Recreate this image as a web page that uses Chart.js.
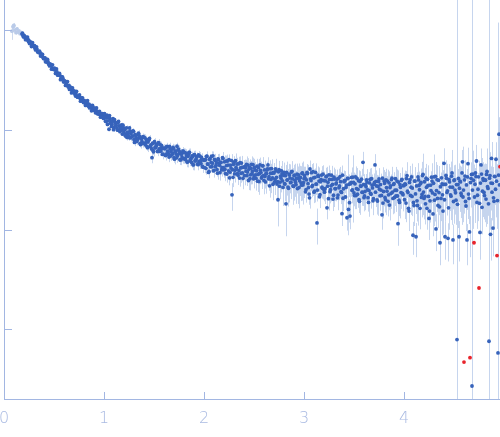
<!DOCTYPE html>
<html><head><meta charset="utf-8">
<script src="https://cdn.jsdelivr.net/npm/chart.js@4"></script>
<style>html,body{margin:0;padding:0;background:#fff}canvas{display:block}</style>
</head><body>
<canvas id="c" width="500" height="437" style="width:500px;height:437px"></canvas>
<script>
// faded (excluded) first points
const fadedQ=[0.08,0.09,0.10,0.11,0.12,0.13,0.14,0.15,0.16,0.17];
const fadedI=[985,1090,1120,1010,950,1040,965,990,930,955];
const fadedE=[180,90,70,50,40,35,30,28,25,22];

// main data, segment by segment
const qB=[0.18,0.19,0.20,0.21,0.22,0.23,0.24,0.25,0.26,0.27,0.28,0.29,0.30,0.31,0.32,0.33,0.34,0.35,0.36,0.37,0.38,0.39,0.40,0.41,0.42,0.43,0.44,0.45,0.46,0.47,0.48,0.49,0.50,0.51,0.52,0.53,0.54,0.55,0.56,0.57,0.58,0.59,0.60,0.61,0.62,0.63,0.64,0.65,0.66,0.67,0.68,0.69,0.70,0.71,0.72,0.73,0.74,0.75,0.76,0.77,0.78,0.79,0.80,0.81,0.82,0.83,0.84,0.85,0.86,0.87,0.88,0.89,0.90,0.91,0.92,0.93,0.94,0.95,0.96,0.97,0.98,0.99,1.00];
const iB=[921,884,893,851,848,806,812,790,748,751,739,697,
700,662,668,651,609,598,603,566,571,538,522,530,509,481,486,457,461,449,421,411,
415,402,379,383,358,362,353,331,326,328,305,310,301,282,278,281,262,266,247,251,
243,229,236,221,214,220,209,202,207,194,199,188,183,189,177,182,171,174,163,169,
158,161,159,149,153,144,147,139,143,134,137];
const eB=[16,14,15,13,14,12,13,12,11,12,11,10,
10,9.5,10,9,9.5,8.5,9,8.5,8,8.5,8,7.5,8,7.5,7,7.5,7,6.5,7,6.5,
6.5,6,6.5,6,5.8,6,5.6,5.8,5.4,5.6,5.2,5.4,5,5.2,4.9,5,4.8,4.9,4.7,4.8,
4.7,4.6,4.7,4.5,4.6,4.4,4.5,4.3,4.4,4.2,4.3,4.2,4.3,4.1,4.2,4.1,4.2,4.0,4.1,4.0,
4.0,4.1,4.0,4.1,4.0,4.1,4.0,4.1,4.0,4.1,4.2];

const qH=[0.185,0.195,0.205,0.215,0.225,0.235,0.245,0.255,0.265,0.275,0.285,0.295,0.305,0.315,0.325,0.335,0.345,0.355,0.365,0.375,
0.385,0.395,0.405,0.415,0.425,0.435,0.445,0.455,0.465,0.475,0.485,0.495,0.505,0.515,0.525,0.535,0.545,0.555,0.565,0.575,
0.585,0.595,0.605,0.615,0.625,0.635,0.645,0.655,0.665,0.675,0.685,0.695,0.705,0.715,0.725,0.735,0.745,0.755,0.765,0.775,
0.785,0.795,0.805,0.815,0.825,0.835,0.845,0.855,0.865,0.875,0.885,0.895,0.905,0.915,0.925,0.935,0.945,0.955,0.965,0.975,
0.985,0.995];
const iH=[939,861,879,808,854,859,774,740,768,691,
753,693,703,638,686,611,614,622,553,578,
574,522,529,485,512,513,462,441,456,409,
452,407,418,371,411,357,361,370,321,343,
342,305,312,281,303,307,270,256,270,236,
265,240,246,220,245,214,218,225,195,210,
211,189,196,177,193,197,174,167,177,156,
177,161,166,149,167,146,149,154,135,145,
146,131];
const eH=[15,14,14,13,13,12,12,12,11,11,
10,10,10,9.5,9.5,9,9,8.5,8.5,8,
8,8,7.5,7.5,7.5,7,7,7,6.5,6.5,
6.5,6.3,6.2,6,6,5.8,5.7,5.6,5.5,5.4,
5.3,5.2,5.1,5,5,4.9,4.9,4.8,4.8,4.7,
4.7,4.6,4.6,4.5,4.5,4.4,4.4,4.3,4.3,4.2,
4.2,4.2,4.2,4.1,4.1,4.1,4.1,4.1,4.0,4.0,
4.0,4.0,4.0,4.0,4.0,4.0,4.0,4.0,4.0,4.0,
4.0,4.0];

const qC=[1.01,1.02,1.03,1.04,1.05,1.06,1.07,1.08,1.09,1.10,1.11,1.12,1.13,1.14,1.15,1.16,1.17,1.18,1.19,1.20,1.21,1.22,1.23,1.24,1.25,1.26,1.27,1.28,1.29,1.30,1.31,1.32,1.33,1.34,1.35,1.36,1.37,1.38,1.39,1.40,1.41,1.42,1.43,1.44,1.45,1.46,1.47,1.48,1.49,1.50,1.51,1.52,1.53,1.54,1.55,1.56,1.57,1.58,1.59,1.60,1.61,1.62,1.63,1.64,1.65,1.66,1.67,1.68,1.69,1.70,1.71,1.72,1.73,1.74,1.75,1.76,1.77,1.78,1.79,1.80,1.81,1.82,1.83,1.84,1.85,1.86,1.87,1.88,1.89,1.90,1.91,1.92,1.93,1.94,1.95,1.96,1.97,1.98,1.99,2.00];
const iC=[137,122,141,124,102,130,122,114,130,106,
119,111,104,118,110,96.5,109,99.9,112,95,
101.7,90.6,84.5,92.9,84.2,97.7,91.8,86,98,80,
90.3,84.2,79,89.6,83.6,73.7,83.2,76.8,86.2,73.7,
73.7,81.3,68.4,75.8,80.9,68.3,71.1,52.9,62.4,74.7,
66.5,68.7,71.3,61.4,64.8,71.4,61.7,66.2,57.3,65.6,
65.2,57.3,68.6,60.2,53.7,64.8,60.8,56.7,67,53,
62,57.5,68.9,63,58,50.4,59,53.6,62,51.7,
51.9,58.6,48,54.6,59.6,49.1,51.9,55.1,45,56.4,
49,51.1,53.8,45,48.6,54.7,46.1,50.5,42.5,50.3];
const eC=[4.4,4.6,4.5,4.8,4.7,5.0,4.9,5.2,5.1,5.4,5.3,5.5,5.4,5.6,5.5,5.7,5.6,5.8,5.7,5.9,
5.8,6.0,5.9,6.1,6.0,6.2,6.1,6.3,6.2,6.3,6.2,6.4,6.3,6.4,6.3,6.5,6.4,6.5,6.4,6.5,
6.4,6.5,6.4,6.5,6.3,6.5,6.4,6.4,6.3,6.4,6.3,6.4,6.2,6.3,6.2,6.3,6.1,6.2,6.1,6.2,
6.1,6.2,6.0,6.1,6.0,6.1,5.9,6.0,5.9,6.0,5.8,5.9,5.8,5.9,5.7,5.8,5.7,5.8,5.6,5.7,
5.6,5.7,5.6,5.7,5.5,5.6,5.5,5.6,5.4,5.5,5.4,5.5,5.4,5.5,5.3,5.4,5.3,5.4,5.3,5.4];

const qK=[1.005,1.015,1.025,1.035,1.045,1.055,1.065,1.075,1.085,1.095,1.105,1.115,1.125,1.135,1.145,1.155,1.165,1.175,1.185,1.195,
1.205,1.215,1.225,1.235,1.245,1.255,1.265,1.275,1.285,1.295,1.305,1.315,1.325,1.335,1.345,1.355,1.365,1.375,1.385,1.395,
1.405,1.415,1.425,1.435,1.445,1.455,1.465,1.475,1.485,1.495,1.505,1.515,1.525,1.535,1.545,1.555,1.565,1.575,1.585,1.595,
1.605,1.615,1.625,1.635,1.645,1.655,1.665,1.675,1.685,1.695,1.705,1.715,1.725,1.735,1.745,1.755,1.765,1.775,1.785,1.795,
1.805,1.815,1.825,1.835,1.845,1.855,1.865,1.875,1.885,1.895,1.905,1.915,1.925,1.935,1.945,1.955,1.965,1.975,1.985,1.995];
const iK=[146,123,133,114,135,140,117,109,123,101,
127,111,119,99.9,122,99.3,105.3,113,91,105,
103,87.3,105.5,95.5,87.6,105,83.4,96.6,87.2,97.3,
75.3,88.9,76.9,80.2,93.2,87.2,71.6,81.2,73.3,85,
84.1,71.1,77.1,66.6,79.1,82.6,69.4,65,73.4,60.6,
76.5,66.9,72.4,61,75,61.2,65.2,70.4,57,65.9,
65.4,55.6,67.7,61.6,56.9,68.7,55,64.2,58.3,65.6,
51.1,60.6,52.7,55.2,64.5,60.8,50.2,57.1,51.7,60.2,
59.7,50.7,55.2,47.8,57.1,59.9,50.5,47.5,54,44.8,
56.8,49.8,54,45.7,56.3,46,49.2,53.2,43.2,50];
const eK=[4.5,4.6,4.7,4.8,4.9,5,5,5.1,5.2,5.3,
5.3,5.4,5.5,5.5,5.6,5.6,5.7,5.7,5.8,5.8,
5.9,5.9,6,6,6.1,6.1,6.2,6.2,6.2,6.3,
6.3,6.3,6.3,6.4,6.4,6.4,6.4,6.5,6.5,6.5,
6.5,6.5,6.4,6.4,6.4,6.4,6.4,6.4,6.3,6.3,
6.3,6.3,6.3,6.2,6.2,6.2,6.2,6.1,6.1,6.1,
6.1,6.1,6,6,6,6,5.9,5.9,5.9,5.9,
5.8,5.8,5.8,5.8,5.7,5.7,5.7,5.7,5.6,5.6,
5.6,5.6,5.6,5.6,5.5,5.5,5.5,5.5,5.4,5.4,
5.4,5.4,5.4,5.4,5.3,5.3,5.3,5.3,5.3,5.3];

const qD=[2.01,2.02,2.03,2.04,2.05,2.06,2.07,2.08,2.09,2.10,2.11,2.12,2.13,2.14,2.15,2.16,2.17,2.18,2.19,2.20,2.21,2.22,2.23,2.24,2.25,2.26,2.27,2.28,2.29,2.30,2.31,2.32,2.33,2.34,2.35,2.36,2.37,2.38,2.39,2.40,2.41,2.42,2.43,2.44,2.45,2.46,2.47,2.48,2.49,2.50,2.51,2.52,2.53,2.54,2.55,2.56,2.57,2.58,2.59,2.60,2.61,2.62,2.63,2.64,2.65,2.66,2.67,2.68,2.69,2.70,2.71,2.72,2.73,2.74,2.75,2.76,2.77,2.78,2.79,2.80,2.81,2.82,2.83,2.84,2.85,2.86,2.87,2.88,2.89,2.90,2.91,2.92,2.93,2.94,2.95,2.96,2.97,2.98,2.99,3.00];
const iD=[50.1,41.3,54.9,45.2,38.5,51.7,47.3,43,55.2,39.4,
49.7,44.5,40.2,51.3,46.6,37.4,47.4,41.9,51.8,39.8,
40.5,48.9,36.2,44.6,50.4,37.8,41.6,22.4,33.6,47.7,
39.5,42.2,45.7,35.3,39.2,47.1,36.8,42.2,32.8,42.6,
43.2,38.7,35,44.6,40.5,32.6,41.3,36.5,45.1,34.7,
39.8,32.8,43.5,35.9,30.5,44.7,37.5,34.1,43.8,31.2,
34.3,36.7,39.7,44.7,34.1,40.9,32,36.8,28.6,37.1,
32.1,38.9,28.7,20,40,30,32.9,36.4,26.6,37.7,
28.7,18.2,31.5,26.8,36.2,33,30,38.6,27.6,34.9,
31.3,28.3,36.1,32.9,26.5,33.5,29.6,36.7,28.2,32.4];
const eD=[5.5,5.6,5.5,5.7,5.6,5.8,5.7,5.9,5.8,6.0,5.9,6.1,6.0,6.2,6.1,6.3,6.2,6.4,6.3,6.5,
6.4,6.6,6.5,6.7,6.6,6.8,6.7,6.9,6.8,7.0,6.9,7.1,7.0,7.2,7.1,7.3,7.2,7.4,7.3,7.5,
7.4,7.6,7.5,7.7,7.6,7.8,7.7,7.9,7.8,8.0,7.9,8.1,8.0,8.2,8.1,8.3,8.2,8.4,8.3,8.5,
8.4,8.6,8.5,8.7,8.6,8.8,8.7,8.9,8.8,9.0,8.9,9.1,9.0,9.2,9.1,9.3,9.2,9.4,9.3,9.5,
9.4,9.6,9.5,9.7,9.6,9.8,9.7,9.9,9.8,10,9.9,10.1,10,10.2,10.1,10.3,10.2,10.4,10.3,10.5];

const qE=[3.01,3.02,3.03,3.04,3.05,3.06,3.07,3.08,3.09,3.10,3.11,3.12,3.13,3.14,3.15,3.16,3.17,3.18,3.19,3.20,3.21,3.22,3.23,3.24,3.25,3.26,3.27,3.28,3.29,3.30,3.31,3.32,3.33,3.34,3.35,3.36,3.37,3.38,3.39,3.40,3.41,3.42,3.43,3.44,3.45,3.46,3.47,3.48,3.49,3.50,3.51,3.52,3.53,3.54,3.55,3.56,3.57,3.58,3.59,3.60,3.61,3.62,3.63,3.64,3.65,3.66,3.67,3.68,3.69,3.70,3.71,3.72,3.73,3.74,3.75,3.76,3.77,3.78,3.79,3.80,3.81,3.82,3.83,3.84,3.85,3.86,3.87,3.88,3.89,3.90,3.91,3.92,3.93,3.94,3.95,3.96,3.97,3.98,3.99,4.00];
const iE=[33.3,25.2,37.6,29,22.8,40.7,31.1,27.1,38.3,23.8,
33.6,28.7,11.7,35.3,30.8,22.5,32,26.7,36.1,25.1,
25.8,33.9,16.6,29.9,35.6,24.1,27.5,32,20.3,33.8,
25.9,28.8,32.2,22.3,26.4,34.2,24.1,14.5,20.7,30.3,
31,26.6,13.2,32.8,28.6,13.7,29.8,24.8,33.8,23.4,
28.9,22,32.8,25.4,20,30.5,27.3,23.8,47.5,21,
24.2,27,30.1,21,24.8,32.1,22.7,28.1,19.5,28.6,
44.7,30.6,19.9,27.2,32.3,21.9,25,14.1,18.5,30.8,
21.1,31.6,24.4,19.3,29.6,26.5,23.1,32.9,20.6,29,
24.9,21.8,30.8,11.5,19.8,28.3,23.6,32.1,22.4,27.8];
const eE=[7,5.3,8,6.2,5,8.8,6.7,5.9,8.3,5.3,
7.6,6.4,4.6,7.9,6.9,5.1,7.3,6.2,8.3,5.8,
6,8,3.9,7,8.5,5.7,6.6,7.6,4.9,8.2,
6.4,7.1,7.9,5.5,6.6,8.5,6,3.6,5.3,7.6,
7.8,6.8,3.4,24,7.4,3.6,7.7,6.4,22,6.2,
7.6,5.9,8.8,6.8,5.3,8.2,7.4,6.4,13,5.7,
6.6,7.4,8.3,5.8,6.9,9,6.4,7.8,5.5,8.1,
12.7,8.8,5.7,7.8,9.2,6.4,7.3,4.1,5.5,9,
6.2,9.3,7.3,5.7,8.9,8,6.9,9.9,6.3,8.8,
7.6,6.7,9.5,4.6,6.1,8.8,7.4,10.1,7.1,8.8];

const qF=[4.01,4.02,4.03,4.04,4.05,4.06,4.07,4.08,4.09,4.10,4.11,4.12,4.13,4.14,4.15,4.16,4.17,4.18,4.19,4.20,4.21,4.22,4.23,4.24,4.25,4.26,4.27,4.28,4.29,4.30,4.31,4.32,4.33,4.34,4.35,4.36,4.37,4.38,4.39,4.40,4.41,4.42,4.43,4.44,4.45,4.46,4.47,4.48,4.49,4.50,4.51,4.52,4.53,4.54,4.55,4.56,4.57,4.58,4.59,4.61,4.62,4.63,4.64,4.65,4.67,4.68,4.69,4.71,4.72,4.73,4.74,4.76,4.77,4.78,4.79,4.80,4.81,4.82,4.83,4.84,4.85,4.86,4.87,4.88,4.89,4.90,4.91,4.92,4.94,4.95];
const iF=[28.8,18.5,35,23.6,15.4,31.9,26.7,21.6,8.8,17.5,
30.8,8.5,19.5,33.9,27.8,16.4,29.8,22.6,36,20.6,
21.6,32.9,16.4,27.8,13,19.5,24.7,30.8,14.4,33.9,
22.6,10.2,31.9,17.5,23.6,7.4,20.6,28.8,15.4,46.4,
8.5,35.1,23.7,8.2,32,26.8,21.7,37.2,7.9,31.2,
25,19.8,0.79,28.4,8.5,30.7,23.3,37.2,21.3,
34.6,17.3,7.9,46,20.6,
32.8,0.27,36.2,
28.6,34.2,18.8,25.5,
9.4,44.7,16.8,32.5,23.7,
31.6,20.3,38.4,26,0.76,35,29.4,23.8,10.4,19.3,
34.2,51,0.58,91];
const eF=[10.4,6.6,12.6,8.7,5.7,11.8,9.8,7.9,3.2,6.6,
11.6,3.2,7.4,12.7,10.5,6.3,11.4,8.6,22,7.9,
8.3,12.9,6.4,10.9,5.1,7.7,9.9,12.3,5.8,23,
9,4.1,12.8,7.1,9.6,3,8.4,20,6.4,19.3,
3.5,14.6,9.8,3.4,13.6,11.4,9.2,26,3.4,13.2,
10.8,8.6,3000,12.2,3.7,13.3,10.2,26,9.4,
15.2,7.6,3.5,20.6,9.2,
14.7,3000,26,
13,15.6,8.6,11.6,
4.4,20.7,7.8,15.1,11,
14.6,9.6,27,12.2,3000,25,13.8,11.4,5,9.3,
16.4,24.5,1200,43.7];

// in-between samples of the dense high-q part
const qG=[2.005,2.015,2.025,2.035,2.045,2.055,2.065,2.075,2.085,2.095,2.105,2.115,2.125,2.135,2.145,2.155,2.165,2.175,2.185,2.195,
2.205,2.215,2.225,2.235,2.245,2.255,2.265,2.275,2.285,2.295,2.305,2.315,2.325,2.335,2.345,2.355,2.365,2.375,2.385,2.395,
2.405,2.415,2.425,2.435,2.445,2.455,2.465,2.475,2.485,2.495,2.505,2.515,2.525,2.535,2.545,2.555,2.565,2.575,2.585,2.595,
2.605,2.615,2.625,2.635,2.645,2.655,2.665,2.675,2.685,2.695,2.705,2.715,2.725,2.735,2.745,2.755,2.765,2.775,2.785,2.795,
2.805,2.815,2.825,2.835,2.845,2.855,2.865,2.875,2.885,2.895,2.905,2.915,2.925,2.935,2.945,2.955,2.965,2.975,2.985,2.995,
3.005,3.015,3.025,3.035,3.045,3.055,3.065,3.075,3.085,3.095,3.105,3.115,3.125,3.135,3.145,3.155,3.165,3.175,3.185,3.195,
3.205,3.215,3.225,3.235,3.245,3.255,3.265,3.275,3.285,3.295,3.305,3.315,3.325,3.335,3.345,3.355,3.365,3.375,3.385,3.395,
3.405,3.415,3.425,3.435,3.445,3.455,3.465,3.475,3.485,3.495,3.505,3.515,3.525,3.535,3.545,3.555,3.565,3.575,3.585,3.595,
3.605,3.615,3.625,3.635,3.645,3.655,3.665,3.675,3.685,3.695,3.705,3.715,3.725,3.735,3.745,3.755,3.765,3.775,3.785,3.795,
3.805,3.815,3.825,3.835,3.845,3.855,3.865,3.875,3.885,3.895,3.905,3.915,3.925,3.935,3.945,3.955,3.965,3.975,3.985,3.995,
4.005,4.015,4.025,4.035,4.045,4.055,4.065,4.075,4.085,4.095,4.105,4.115,4.125,4.135,4.145,4.155,4.165,4.175,4.185,4.195,
4.205,4.215,4.225,4.235,4.245,4.255,4.265,4.275,4.285,4.295,4.305,4.315,4.325,4.335,4.345,4.355,4.365,4.375,4.385,4.395,
4.405,4.415,4.425,4.435,4.445,4.455,4.465,4.475,4.485,4.495,4.505,4.515,4.525,4.535,4.545,4.555,4.565,4.575,4.585,4.595,
4.605,4.615,4.625,4.635,4.645,4.655,4.665,4.675,4.685,4.695,4.705,4.715,4.725,4.735,4.745,4.755,4.765,4.775,4.785,4.795,
4.805,4.815,4.825,4.835,4.845,4.855,4.865,4.875,4.885,4.895,4.905,4.915,4.925,4.935,4.945,4.955];
const iG=[42.1,50.5,54.5,45.8,37.6,51,42.8,54.6,46.6,39,
50.7,42.8,47.1,37,50.7,44.3,47.5,39.8,52.8,42,
48,36.5,44.1,49,38.9,33.2,44.5,49.5,40,45.3,
36.3,49.4,40.5,36.6,45.8,33,41.7,46.7,37.3,42.3,
34.9,41.9,45.3,38,31.2,42.3,35.6,45.4,38.7,32.5,
42.2,35.5,39.1,30.7,42.1,36.7,39.5,33,43.9,34.9,
39.8,30.2,36.6,40.7,32.4,27.6,37,41.1,33.2,37.6,
30.1,40.9,33.6,30.3,38.1,27.4,34.6,38.9,31,35.2,
29,34.9,37.7,31.7,26.1,35.4,29.7,38,32.4,27.2,
35.4,29.9,33,25.9,35.6,31.1,33.4,28,37.2,29.7,
35.2,24,31.6,36.7,26.5,20.9,32.4,37.4,27.9,33.1,
24.4,37.7,28.7,25,34.3,21.4,30.3,35.4,26.1,31.2,
23.8,30.9,34.5,27.4,20.5,32,25.2,35.3,28.5,22.2,
32.3,25.8,29.6,20.9,32.8,27.5,30.4,23.7,35.3,25.8,
31.2,21.3,28.1,32.7,16,18.7,28.9,33.5,25.1,29.8,
22,34,25.9,22.7,31.1,19.3,27.5,32.2,23.7,28.4,
21.8,28.3,31.7,25.1,18.8,29.5,23.2,32.5,26.3,20.5,
29.8,23.8,27.5,19.4,30.5,25.5,28.4,22.1,32.9,24.2,
29.3,20,26.5,30.8,22.4,17.7,27.5,31.9,23.9,28.5,
21.1,32.6,24.9,21.8,30.1,18.8,26.7,31.4,23.1,27.8,
20,28.5,32.6,24.4,16.4,29.8,22.1,33.9,26.2,18.8,
30.8,22.9,27.5,17.5,31.6,25.2,29,21.1,35,23.9,
30.3,18.2,26.7,32.1,21.6,15.4,28,33.7,23.4,29.3,
19.8,34.4,24.7,20.6,31.4,17,27,33.2,22.4,28.5,
20,28.6,32.8,24.6,16.6,30.2,22.4,34.5,26.7,19.2,
31.6,23.5,28.4,18,32.7,26.1,30.2,22,48,25,
31.7,19.2,28.2,33.9,22.8,9.5,29.8,35.9,25,31.4,
21.3,37.1,49,22.2,34,18.4,29.4,36.2,24.4,31.3,
22,31.4,35.9,27,18.2,32.9,9,52,29.2,20.9,
34.4,25.5,30.7,19.6,35.4,28.2];
const eG=[5.1,6.1,6.5,5.5,4.5,6.1,5.1,6.6,5.6,4.7,
7.1,6,6.6,5.2,7.1,6.2,6.7,5.6,7.4,5.9,
7.7,5.8,7.1,7.8,6.2,5.3,7.1,7.9,6.4,7.2,
6.5,8.9,7.3,6.6,8.2,5.9,7.5,8.4,6.7,7.6,
7,8.4,9.1,7.6,6.2,8.5,7.1,9.1,7.7,6.5,
9.3,7.8,8.6,6.8,9.3,8.1,8.7,7.3,9.7,7.7,
9.6,7.2,8.8,9.8,7.8,6.6,8.9,9.9,8,9,
7.8,10.6,8.7,7.9,9.9,7.1,9,10.1,8.1,9.2,
8.1,9.8,10.6,8.9,7.3,9.9,8.3,10.6,9.1,7.6,
10.6,9,9.9,7.8,10.7,9.3,10,8.4,11.2,8.9,
7.7,5.3,7,8.1,5.8,4.6,7.1,8.2,6.1,7.3,
5.6,8.7,6.6,5.8,7.9,4.9,7,8.1,6,7.2,
5.7,7.4,8.3,6.6,4.9,7.7,6,8.5,6.8,5.3,
8.1,6.5,7.4,5.2,8.2,6.9,7.6,5.9,8.8,6.5,
8.1,5.5,7.3,8.5,4.2,4.9,7.5,8.7,6.5,7.7,
5.9,9.2,7,6.1,8.4,5.2,7.4,8.7,6.4,7.7,
6.1,7.9,8.9,7,5.3,8.3,6.5,9.1,7.4,5.7,
8.6,6.9,8,5.6,8.8,7.4,8.2,6.4,9.5,7,
8.8,6,8,9.2,6.7,5.3,8.3,9.6,7.2,8.6,
6.5,10.1,7.7,6.8,9.3,5.8,8.3,9.7,7.2,8.6,
7.2,10.3,11.7,8.8,5.9,10.7,8,12.2,9.4,6.8,
11.4,8.5,10.2,6.5,11.7,9.3,10.7,7.8,13,8.8,
11.5,6.9,10.1,12.2,8.2,5.9,10.6,12.8,8.9,11.1,
7.7,13.4,9.6,8,12.2,6.6,10.5,12.9,8.7,11.1,
8,11.4,13.1,9.8,6.6,12.1,9,13.8,10.7,7.7,
13.3,9.9,11.9,7.6,13.7,11,12.7,9.2,20.2,10.5,
13.9,8.4,12.4,14.9,10,4.2,13.1,15.8,11,13.8,
9.6,16.7,22,10,15.3,8.3,13.2,16.3,11,14.1,
10.1,14.4,16.5,12.4,8.4,15.1,4.1,23.9,13.4,9.6,
16.5,12.2,14.7,9.4,17,13.5];

// outliers shown in red
const redQ=[4.60,4.66,4.70,4.75,4.93,4.96];
const redI=[0.47,0.52,7.4,2.6,5.5,43];

const xTicks=[0,1,2,3,4];
const yTicks=[1,10,100,1000];

const q=qB.concat(qH,qC,qK,qD,qE,qF,qG);
const intensity=iB.concat(iH,iC,iK,iD,iE,iF,iG);
const sigma=eB.concat(eH,eC,eK,eD,eE,eF,eG);

const AXIS='#a2b6e2';
const LABEL='#a9bae2';
const BAR='rgb(198,213,238)';

const toPts=(qs,is)=>qs.map((x,i)=>({x:x,y:is[i]}));

const errPlugin={id:'err',beforeDatasetsDraw(chart){
  const {ctx,chartArea:a,scales}=chart; const xs=scales.x, ys=scales.y;
  ctx.save(); ctx.beginPath(); ctx.rect(a.left,a.top,a.right-a.left,a.bottom-a.top); ctx.clip();
  ctx.lineWidth=1;
  const draw=(qs,is,es,col)=>{
    ctx.strokeStyle=col; ctx.beginPath();
    for(let i=0;i<qs.length;i++){
      const px=Math.round(xs.getPixelForValue(qs[i]))+0.5;
      const lo=is[i]-es[i];
      const y1=lo>0?Math.min(ys.getPixelForValue(lo),a.bottom):a.bottom;
      const y2=Math.max(ys.getPixelForValue(is[i]+es[i]),a.top);
      ctx.moveTo(px,y1); ctx.lineTo(px,y2);
    }
    ctx.stroke();
  };
  draw(fadedQ,fadedI,fadedE,'rgb(205,217,238)');
  draw(q,intensity,sigma,BAR);
  ctx.restore();
}};

const axisPlugin={id:'axes',afterDraw(chart){
  const {ctx,chartArea:a,scales}=chart; const xs=scales.x, ys=scales.y;
  ctx.save(); ctx.strokeStyle=AXIS; ctx.lineWidth=1; ctx.beginPath();
  ctx.moveTo(a.left+0.5,a.top); ctx.lineTo(a.left+0.5,a.bottom+0.5);
  ctx.moveTo(a.left,a.bottom+0.5); ctx.lineTo(a.right,a.bottom+0.5);
  xTicks.forEach(v=>{ if(v===0) return; const px=Math.round(xs.getPixelForValue(v))+0.5; ctx.moveTo(px,a.bottom); ctx.lineTo(px,a.bottom-7); });
  yTicks.forEach(v=>{ const py=Math.round(ys.getPixelForValue(v))+0.5; ctx.moveTo(a.left,py); ctx.lineTo(a.left+8,py); });
  ctx.stroke(); ctx.restore();
}};

new Chart(document.getElementById('c'),{
  type:'scatter',
  data:{datasets:[
    {data:toPts(redQ,redI),backgroundColor:'#e8232b',pointRadius:1.9,borderWidth:0},
    {data:toPts(q,intensity),backgroundColor:'#3763bb',pointRadius:1.9,borderWidth:0},
    {data:toPts(fadedQ,fadedI),backgroundColor:'#b9cae8',pointRadius:1.9,borderWidth:0}
  ]},
  options:{
    responsive:false,animation:false,devicePixelRatio:1,
    layout:{padding:0,autoPadding:false},
    plugins:{legend:{display:false},tooltip:{enabled:false}},
    scales:{
      x:{type:'linear',position:'bottom',min:0,max:4.96,
        grid:{display:false,drawTicks:false,tickLength:0},border:{display:false},
        ticks:{stepSize:1,includeBounds:false,autoSkip:false,maxRotation:0,padding:10,color:LABEL,
          font:{family:'DejaVu Sans',size:16,weight:'200'}},
        afterBuildTicks:(s)=>{s.ticks=xTicks.map(v=>({value:v}));},
        afterFit:(s)=>{s.height=38;s.paddingLeft=0;s.paddingRight=0;}},
      y:{type:'logarithmic',position:'left',min:0.2,max:2023,
        grid:{display:false,drawTicks:false,tickLength:0},border:{display:false},
        ticks:{display:false},
        afterBuildTicks:(s)=>{s.ticks=yTicks.map(v=>({value:v}));},
        afterFit:(s)=>{s.width=4;s.paddingTop=0;s.paddingBottom=0;}}
    }
  },
  plugins:[errPlugin,axisPlugin]
});
</script>
</body></html>
